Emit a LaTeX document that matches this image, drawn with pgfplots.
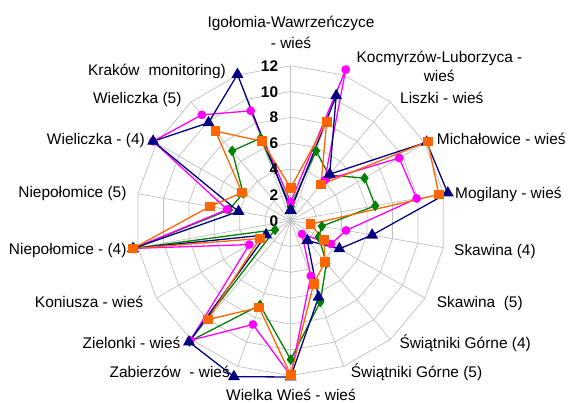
\documentclass[border=0pt]{standalone}
\usepackage{fontspec}
\setmainfont{Liberation Sans}
\usepackage{pgfplots}
\usepackage{pgfplotstable}
\pgfplotsset{compat=1.18}
\usepgfplotslibrary{polar}

\definecolor{cnavy}{RGB}{0,0,128}
\definecolor{cmag}{RGB}{255,0,255}
\definecolor{corange}{RGB}{255,102,0}
\definecolor{cgreen}{RGB}{0,128,0}
\definecolor{cgrid}{RGB}{192,192,192}

% angle (deg, counter-clockwise from east), values per series
\pgfplotstableread{
ang   navy   mag    orange green
90    0.8    1.45   2.55   1.1
70    10.3   12.45  8.15   5.75
50    4.7    4.1    3.65   4.6
30    12.15  9.7    12.25  6.6
10    12.35  9.9    11.65  6.65
-10   6.4    4.35   1.55   2.45
-30   4.35   3.6    2.95   2.5
-50   2.0    1.35   4.15   4.3
-70   6.3    4.55   5.2    6.7
-90   12.1   12.0   11.95  10.75
-110  12.85  8.55   7.15   6.95
-130  12.25  12.1   10.0   12.2
-150  2.2    3.7    2.75   1.4
-170  12.4   12.35  12.4   12.3
-190  4.1    5.0    6.35   4.85
-210  12.3   12.3   4.35   4.25
-230  9.9    10.7   9.05   7.05
-250  12.05  9.05   6.55   6.8
-270  0.8    1.45   2.55   1.1
}\data

\begin{document}
\begin{tikzpicture}
\fontsize{15.5}{21}\selectfont
\begin{polaraxis}[
  scale only axis, width=310bp, height=310bp,
  ymin=0, ymax=12,
  hide axis, clip=false,
  every axis plot/.append style={line width=1.3bp},
]
\coordinate (c) at (axis cs:0,0);
\pgfplotsinvokeforeach{2,4,6,8,10,12}{
  \draw[cgrid, line width=0.7bp] (axis cs:90,#1)
    foreach \a in {70,50,30,10,-10,-30,-50,-70,-90,-110,-130,-150,-170,-190,-210,-230,-250}{ -- (axis cs:\a,#1)} -- cycle;
}
\pgfplotsinvokeforeach{90,70,50,30,10,-10,-30,-50,-70,-90,-110,-130,-150,-170,-190,-210,-230,-250}{
  \draw[cgrid, line width=0.7bp] (axis cs:0,0) -- (axis cs:#1,12);
}
\addplot[cgreen, mark=diamond*, mark size=4.4bp, mark options={solid,fill=cgreen}] table[x=ang,y=green] {\data};
\addplot[cmag, mark=*, mark size=3.7bp, mark options={solid,fill=cmag}] table[x=ang,y=mag] {\data};
\addplot[cnavy, mark=triangle*, mark size=5.6bp, mark options={solid,fill=cnavy}] table[x=ang,y=navy] {\data};
\addplot[corange, mark=square*, mark size=4.2bp, mark options={solid,fill=corange}] table[x=ang,y=orange] {\data};
\pgfplotsinvokeforeach{0,2,4,6,8,10,12}{
  \node[anchor=east, inner sep=0pt, font=\bfseries, text height=11bp, text depth=0pt] at ([xshift=-12.4bp]axis cs:90,#1) {#1};
}
\end{polaraxis}
\tikzset{lab/.style={inner sep=0pt, text height=11bp, text depth=0pt}}
\node[lab, anchor=center] at ([shift={(0.3bp,198.7bp)}]c) {Igołomia-Wawrzeńczyce};
\node[lab, anchor=center] at ([shift={(0.3bp,177.4bp)}]c) {- wieś};
\node[lab, anchor=center] at ([shift={(148.8bp,164bp)}]c) {Kocmyrzów-Luborzyca -};
\node[lab, anchor=center] at ([shift={(148.5bp,144.5bp)}]c) {wieś};
\node[lab, anchor=west] at ([shift={(109.3bp,123bp)}]c) {Liszki - wieś};
\node[lab, anchor=west] at ([shift={(146bp,81.4bp)}]c) {Michałowice - wieś};
\node[lab, anchor=west] at ([shift={(164.3bp,28bp)}]c) {Mogilany - wieś};
\node[lab, anchor=west] at ([shift={(163.3bp,-29.3bp)}]c) {Skawina (4)};
\node[lab, anchor=west] at ([shift={(146bp,-81.6bp)}]c) {Skawina\ \ (5)};
\node[lab, anchor=west] at ([shift={(108.6bp,-122bp)}]c) {Świątniki Górne (4)};
\node[lab, anchor=west] at ([shift={(60bp,-151.6bp)}]c) {Świątniki Górne (5)};
\node[lab, anchor=center] at ([shift={(0.3bp,-174.3bp)}]c) {Wielka Wieś - wieś};
\node[lab, anchor=east] at ([shift={(-60.7bp,-151.6bp)}]c) {Zabierzów\ \ - wieś};
\node[lab, anchor=east] at ([shift={(-110bp,-122bp)}]c) {Zielonki - wieś};
\node[lab, anchor=east] at ([shift={(-147.4bp,-81bp)}]c) {Koniusza - wieś};
\node[lab, anchor=east] at ([shift={(-164bp,-28.6bp)}]c) {Niepołomice - (4)};
\node[lab, anchor=east] at ([shift={(-164bp,29bp)}]c) {Niepołomice (5)};
\node[lab, anchor=east] at ([shift={(-145.7bp,81.4bp)}]c) {Wieliczka - (4)};
\node[lab, anchor=east] at ([shift={(-109bp,122.4bp)}]c) {Wieliczka (5)};
\node[lab, anchor=east] at ([shift={(-64.7bp,151bp)}]c) {Kraków\hspace{9bp}monitoring)};
\pgfresetboundingbox
\path[use as bounding box] ([shift={(-290.7bp,-182.3bp)}]c) rectangle ([shift={(285.3bp,220.7bp)}]c);
\end{tikzpicture}
\end{document}
